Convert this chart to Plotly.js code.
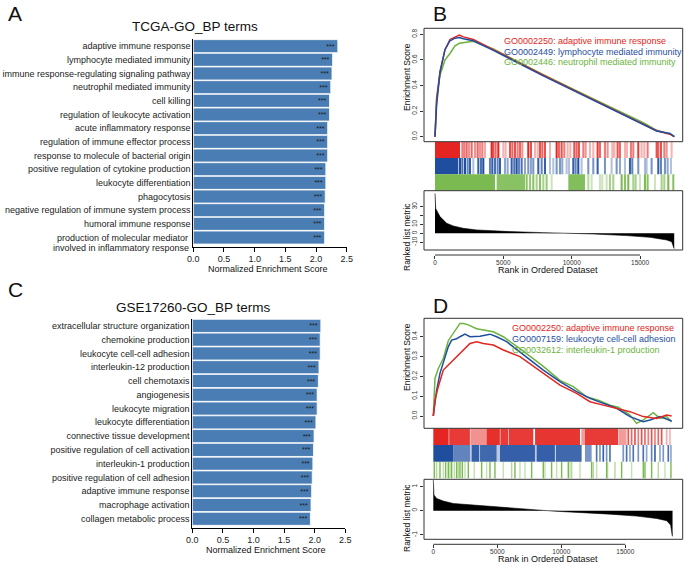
<!DOCTYPE html>
<html>
<head>
<meta charset="utf-8">
<script src="https://cdn.plot.ly/plotly-3.0.1.min.js"></script>
<style>html,body{margin:0;padding:0;background:#fff}#chart{width:685px;height:564px}</style>
</head>
<body>
<div id="chart"></div>
<script>
// ---------------- Panel A data ----------------
const termsA = ["adaptive immune response","lymphocyte mediated immunity","immune response-regulating signaling pathway","neutrophil mediated immunity","cell killing","regulation of leukocyte activation","acute inflammatory response","regulation of immune effector process","response to molecule of bacterial origin","positive regulation of cytokine production","leukocyte differentiation","phagocytosis","negative regulation of immune system process","humoral immune response","production of molecular mediator involved in inflammatory response"];
const labelsA = ["adaptive immune response","lymphocyte mediated immunity","immune response-regulating signaling pathway","neutrophil mediated immunity","cell killing","regulation of leukocyte activation","acute inflammatory response","regulation of immune effector process","response to molecule of bacterial origin","positive regulation of cytokine production","leukocyte differentiation","phagocytosis","negative regulation of immune system process","humoral immune response","production of molecular mediator "];
const labelA_line2 = "involved in inflammatory response";
const nesA = [2.355,2.27,2.26,2.24,2.22,2.22,2.19,2.19,2.19,2.16,2.16,2.15,2.14,2.14,2.14];
// ---------------- Panel C data ----------------
const termsC = ["extracellular structure organization","chemokine production","leukocyte cell-cell adhesion","interleukin-12 production","cell chemotaxis","angiogenesis","leukocyte migration","leukocyte differentiation","connective tissue development","positive regulation of cell activation","interleukin-1 production","positive regulation of cell adhesion","adaptive immune response","macrophage activation","collagen metabolic process"];
const nesC = [2.10,2.09,2.09,2.07,2.06,2.04,2.04,2.02,1.99,1.98,1.97,1.96,1.95,1.94,1.93];
const starLabel = "***";
const nesTicks = [0,0.5,1,1.5,2,2.5];
const nesTickText = ['0.0','0.5','1.0','1.5','2.0','2.5'];

// ---------------- Panel B data ----------------
const setNamesB = ["GO0002250: adaptive immune response","GO0002449: lymphocyte mediated immunity","GO0002446: neutrophil mediated immunity"];
const esRankB = [0,120,366,731,1097,1463,1780,2072,2804,4267,7925,11583,15240,16216,17191,17508];
const esB_red   = [0,0.29,0.51,0.68,0.76,0.78,0.795,0.78,0.76,0.68,0.48,0.29,0.10,0.047,0.02,0];
const esB_blue  = [0,0.25,0.50,0.68,0.75,0.77,0.775,0.765,0.75,0.675,0.475,0.285,0.10,0.045,0.025,0];
const esB_green = [0,0.31,0.48,0.60,0.65,0.71,0.73,0.735,0.745,0.685,0.485,0.295,0.11,0.05,0.02,0];
const rankMetricRankB = [0,50,366,853,1341,2072,3048,4267,5487,7925,9876,11583,14022,15728,16947,17313,17484,17500];
const rankMetricB     = [45,28,18.8,11.3,8.3,5.6,3.8,2.6,1.9,0.75,0,-0.75,-2.6,-4.5,-7.5,-9.4,-17,-17];
const rankTicks = [0,5000,10000,15000];
const rankTickText = ['0','5000','10000','15000'];
const bRedBlocks = [[0,1830,1]];
const bRedHits = [2000,2145,2316,2487,2682,2926,3121,3291,3462,3657,4145,4267,4437,4632,4998,5169,5486,5656,5851,6046,6217,6388,6826,7021,7314,7509,7680,7850,8045,8411,8899,9069,9264,9459,9703,9898,10191,10362,10532,10849,11020,11337,11581,11897,12068,12434,12629,12970,13116,13360,13531,13897,14043,14335,14506,14872,15116,15311,15554,16213,16335,16530,16774,16945,17310];
const bRedAlpha = [.6,.6,.7,.5,.7,.5,.7,.5,.6,.4,1,.8,.7,1,.35,.35,.8,.7,.8,.6,.7,.5,1,.8,.35,.35,.8,.7,.8,.35,1,.7,.8,.6,.35,.35,.8,.7,.8,.6,.5,.35,.35,.9,.7,.6,.5,.35,.35,.8,.7,.35,.35,.6,.6,.9,.35,.35,.6,.8,.7,.8,.6,.5,.35];
const bBlueBlocks = [[0,1707,1]];
const bBlueHits = [1829,2000,2194,2389,2560,2804,3169,3364,3535,4023,4193,4388,4583,4754,5120,5315,5607,5802,5973,6144,6339,6583,6826,7021,7192,7558,7802,8045,8411,8655,8899,9143,9313,9630,9801,10118,10288,10483,10727,11215,11581,11897,12434,12921,13287,13531,13897,14262,14433,14872,15359,15481,15847,16335,16530,16822,17017,17261];
const bBlueAlpha = [1,.8,1,.7,.9,.35,.9,.8,1,.7,.9,.8,.7,.9,.5,.5,.9,.8,1,.7,.8,.5,.6,.5,.6,.9,.7,.9,.35,.35,.6,.6,.5,.35,.35,.9,.7,1,.35,.6,.6,.9,.6,.35,.6,.5,.35,.9,.7,.6,.35,.35,.6,.9,.7,.6,.5,.35];
const bGreenBlocks = [[0,4388,0.9],[4510,6583,0.8],[9752,10971,0.85]];
const bGreenHits = [6705,6948,7192,7436,7680,7924,8167,8533,11215,11459,12068,12239,12556,12800,13043,13653,13897,14140,14506,14677,14994,15359,15554,16091,16579,16774,17066,17432];
const bGreenAlpha = [.8,.7,.8,.6,.8,.6,.7,.35,.5,.35,.35,.35,.35,.6,.6,.9,.8,.9,.6,.6,.35,.9,.8,.35,.6,.6,.9,.8];

// ---------------- Panel D data ----------------
const setNamesD = ["GO0002250: adaptive immune response","GO0007159: leukocyte cell-cell adhesion","GO0032612: interleukin-1 production"];
const esRankD_red = [0,130,391,781,1172,1563,1953,2344,2865,3385,3906,4688,5469,6771,8594,9896,11198,12240,13281,14323,15365,16406,17448,18229,18620];
const esD_red     = [0,0.08,0.148,0.232,0.257,0.282,0.307,0.333,0.366,0.375,0.366,0.358,0.333,0.30,0.215,0.156,0.114,0.072,0.055,0.039,0.022,-0.003,-0.012,0.005,0];
const esRankD_blue = [0,260,521,781,1172,1432,1823,2083,2474,2865,3646,4427,4948,5729,6771,8594,9896,11198,12240,13281,14323,15365,16406,16927,17708,18620];
const esD_blue     = [0,0.13,0.215,0.265,0.35,0.383,0.39,0.40,0.413,0.40,0.403,0.413,0.40,0.375,0.324,0.232,0.173,0.123,0.089,0.064,0.039,-0.003,-0.029,-0.02,-0.003,-0.025];
const esRankD_green = [0,130,391,651,781,1172,1563,2083,2344,2734,3385,4688,5469,6771,8594,9896,10938,11979,12891,13802,14453,15365,15885,16406,17188,17708,18229,18620];
const esD_green     = [0,0.19,0.24,0.27,0.29,0.38,0.42,0.467,0.467,0.46,0.44,0.425,0.40,0.34,0.25,0.18,0.148,0.097,0.08,0.055,0.044,0.005,-0.037,-0.02,0.017,-0.012,-0.003,-0.03];
const rankMetricRankD = [0,52,260,781,1563,3385,5469,7292,8594,9896,11979,13802,15885,17448,18229,18542,18672,18690];
const rankMetricD     = [1.27,0.65,0.51,0.40,0.30,0.22,0.14,0.055,0.014,-0.03,-0.08,-0.14,-0.22,-0.32,-0.41,-0.59,-1.05,-1.05];
const dRedBlocks = [[0,1200,1],[1240,2860,0.9],[2900,4160,0.5],[4160,5200,0.95],[5240,5860,0.9],[5900,7810,0.9],[7950,11460,0.92],[11560,11850,0.45],[11850,14450,0.9],[14500,15100,0.45]];
const dRedHits = [15233,15494,15754,16015,16275,16535,16796,17056,17317,17577,17838,18228,18488];
const dRedAlpha = [.8,.7,.8,.6,.8,.7,.6,.8,.6,.7,.8,.4,.35];
const dBlueBlocks = [[0,1562,1],[1562,2864,0.7],[2864,2995,0.3],[2995,3600,0.9],[3650,4947,0.85],[4947,5208,0.3],[5208,7942,0.9],[7942,8072,0.3],[8072,9500,0.9],[9560,11588,0.85],[11848,12369,0.6]];
const dBlueHits = [12760,13020,13281,13541,13801,14843,15103,15364,15624,16015,16405,16666,17056,17317,17707,17968,18358,18566];
const dBlueAlpha = [.8,.6,.9,.6,.8,.6,.8,.5,.8,.6,.8,.5,.7,.9,.5,.6,.8,.5];
const dGreenBlocks = [];
const dGreenHits = [78,260,521,781,963,1172,1302,1432,1641,1823,1953,2083,2265,2474,2734,3203,3776,4166,4427,4817,5468,6119,6380,6770,7161,7682,8593,8723,9244,9635,10025,10546,10676,10807,11458,12369,12499,12760,13541,13619,14192,14713,15494,16405,16535,17056,17577,18098,18566];
const dGreenAlpha = [.9,.5,.9,.4,.9,.9,.5,.9,.4,.9,.5,.9,.9,.4,.9,.4,.9,.4,.9,.9,.4,.5,.9,.4,.4,.9,.9,.4,.9,.4,.9,.9,.4,.5,.4,.9,.5,.4,.9,.4,.5,.9,.4,.9,.9,.9,.5,.4,.9];

// ---------------- styling ----------------
const FONT = "Liberation Sans, Arial, sans-serif";
const RED = [229,37,33], BLUE = [31,78,158], GREEN = [108,179,62];
const css = c => `rgb(${c[0]},${c[1]},${c[2]})`;
const rgba = (c,a) => `rgba(${c[0]},${c[1]},${c[2]},${a})`;
const W = 685, H = 564;
const px = v => v / W, py = v => 1 - v / H;

function hitTrace(xa, ya, row, color, blocks, hits, alpha, w) {
  const xs = [], ws = [], cs = [];
  blocks.forEach(b => { xs.push((b[0] + b[1]) / 2); ws.push(b[1] - b[0]); cs.push(rgba(color, b[2])); });
  hits.forEach((h, i) => { xs.push(h); ws.push(w); cs.push(rgba(color, alpha[i] == null ? 0.6 : alpha[i])); });
  return {type:'bar', x:xs, y:xs.map(() => 1), base:row, width:ws, marker:{color:cs, line:{width:0}},
          xaxis:xa, yaxis:ya, hoverinfo:'skip', showlegend:false};
}
function esTrace(xa, ya, x, y, color) {
  return {type:'scatter', mode:'lines', x:x, y:y, line:{color:css(color), width:1.5}, xaxis:xa, yaxis:ya, hoverinfo:'skip', showlegend:false};
}
function barTrace(xa, ya, vals, cats) {
  return {type:'bar', orientation:'h', x:vals, y:cats, xaxis:xa, yaxis:ya,
          marker:{color:'#4a7db3', line:{color:'#ffffff', width:0.8}},
          text:vals.map(() => starLabel), texttemplate:'%{text}', textposition:'inside', insidetextanchor:'end',
          textfont:{size:7, color:'#1a1a1a', family:FONT}, constraintext:'none', hoverinfo:'skip', showlegend:false};
}

const traces = [
  barTrace('x','y',nesA,termsA),
  barTrace('x2','y2',nesC,termsC),
  // B
  esTrace('x3','y3',esRankB,esB_green,GREEN),
  esTrace('x3','y3',esRankB,esB_red,RED),
  esTrace('x3','y3',esRankB,esB_blue,BLUE),
  hitTrace('x3','y4',2,RED,bRedBlocks,bRedHits,bRedAlpha,150),
  hitTrace('x3','y4',1,BLUE,bBlueBlocks,bBlueHits,bBlueAlpha,150),
  hitTrace('x3','y4',0,GREEN,bGreenBlocks,bGreenHits,bGreenAlpha,150),
  {type:'scatter', mode:'lines', x:rankMetricRankB, y:rankMetricB, fill:'tozeroy', fillcolor:'#000', line:{color:'#000', width:0.6}, xaxis:'x3', yaxis:'y5', hoverinfo:'skip', showlegend:false},
  // D
  esTrace('x4','y6',esRankD_green,esD_green,GREEN),
  esTrace('x4','y6',esRankD_blue,esD_blue,BLUE),
  esTrace('x4','y6',esRankD_red,esD_red,RED),
  hitTrace('x4','y7',2,RED,dRedBlocks,dRedHits,dRedAlpha,130),
  hitTrace('x4','y7',1,BLUE,dBlueBlocks,dBlueHits,dBlueAlpha,130),
  hitTrace('x4','y7',0,GREEN,dGreenBlocks,dGreenHits,dGreenAlpha,110),
  {type:'scatter', mode:'lines', x:rankMetricRankD, y:rankMetricD, fill:'tozeroy', fillcolor:'#000', line:{color:'#000', width:0.6}, xaxis:'x4', yaxis:'y8', hoverinfo:'skip', showlegend:false}
];

const barX = (dom) => ({domain:dom, range:[0,2.5], tickvals:nesTicks, ticktext:nesTickText,
  showline:true, linecolor:'#000', linewidth:1, ticks:'outside', ticklen:4, tickcolor:'#000', ticklabelstandoff:-1, showgrid:false, zeroline:false,
  tickfont:{size:9, color:'#222'}, fixedrange:true});
const barY = (dom, anchor, cats, labels, top) => ({domain:dom, anchor:anchor, type:'category', categoryorder:'array', categoryarray:cats,
  tickvals:cats, ticktext:labels,
  range:[top,-0.5], showline:true, linecolor:'#000', linewidth:1, ticks:'', showgrid:false, zeroline:false,
  tickfont:{size:9, color:'#222'}, fixedrange:true});
const gX = (dom, range, pos) => ({domain:dom, range:range, anchor:'free', position:pos, tickvals:rankTicks, ticktext:rankTickText,
  ticks:'outside', ticklen:3, tickcolor:'#333', ticklabelstandoff:-2, showline:false, showgrid:false, zeroline:false, tickfont:{size:6.5, color:'#333'}, fixedrange:true});
const gY = (dom, range, anchor, vals, text) => ({domain:dom, range:range, anchor:anchor, tickvals:vals, ticktext:text, tickangle:-90,
  ticks:'outside', ticklen:3, tickcolor:'#333', showline:false, showgrid:false, zeroline:false, tickfont:{size:6.5, color:'#333'}, fixedrange:true});
const hY = (dom, anchor) => ({domain:dom, range:[0,3], anchor:anchor, visible:false, fixedrange:true});

const box = (xr, yr) => ({type:'rect', xref:xr+' domain', yref:yr+' domain', x0:0, x1:1, y0:0, y1:1, line:{color:'#333', width:1}, fillcolor:'rgba(0,0,0,0)'});
const axLine = (xr, yv) => ({type:'line', xref:xr, yref:'paper', x0:0, x1:15000, y0:yv, y1:yv, line:{color:'#333', width:1}});

const ann = (x, y, text, size, opts) => Object.assign({xref:'paper', yref:'paper', x:px(x), y:py(y), text:text, showarrow:false,
  font:{size:size, family:FONT, color:'#111'}, xanchor:'center', yanchor:'middle'}, opts || {});

const annotations = [
  ann(15, 13, 'A', 21), ann(440, 13, 'B', 21), ann(15, 289, 'C', 21), ann(440, 305, 'D', 21),
  ann(195, 26, 'TCGA-GO_BP terms', 13.5), ann(193, 307, 'GSE17260-GO_BP terms', 13.5),
  ann(268, 268.5, 'Normalized Enrichment Score', 9), ann(266, 549.5, 'Normalized Enrichment Score', 9),
  ann(191, 248.5, labelA_line2, 9, {xanchor:'right', font:{size:9, family:FONT, color:'#222'}}),
  ann(407, 77, 'Enrichment Score', 8.5, {textangle:-90}), ann(407, 237, 'Ranked list metric', 8.5, {textangle:-90}),
  ann(548, 270, 'Rank in Ordered Dataset', 9),
  ann(407, 357, 'Enrichment Score', 8.5, {textangle:-90}), ann(407, 518, 'Ranked list metric', 8.5, {textangle:-90}),
  ann(548, 558.5, 'Rank in Ordered Dataset', 9),
  ann(502, 40.7, setNamesB[0], 9, {xanchor:'left', font:{size:9, family:FONT, color:css(RED)}}),
  ann(502, 51.7, setNamesB[1], 9, {xanchor:'left', font:{size:9, family:FONT, color:css(BLUE)}}),
  ann(502, 62.3, setNamesB[2], 9, {xanchor:'left', font:{size:9, family:FONT, color:css(GREEN)}}),
  ann(510, 328.3, setNamesD[0], 9, {xanchor:'left', font:{size:9, family:FONT, color:css(RED)}}),
  ann(510, 339.3, setNamesD[1], 9, {xanchor:'left', font:{size:9, family:FONT, color:css(BLUE)}}),
  ann(510, 350, setNamesD[2], 9, {xanchor:'left', font:{size:9, family:FONT, color:css(GREEN)}})
];

const layout = {
  width:W, height:H, autosize:false, margin:{l:0, r:0, t:0, b:0}, paper_bgcolor:'#fff', plot_bgcolor:'rgba(0,0,0,0)',
  font:{family:FONT, color:'#222'}, showlegend:false, barmode:'overlay', bargap:0.05,
  xaxis: barX([px(193.3), px(346.7)]),
  yaxis: barY([py(246.7), py(39.3)], 'x', termsA, labelsA, 14.67),
  xaxis2: Object.assign(barX([px(192.3), px(345.3)]), {anchor:'y2'}),
  yaxis2: barY([py(528.3), py(319)], 'x2', termsC, termsC, 14.69),
  xaxis3: gX([px(424), px(682.7)], [-804, 18120], py(255)),
  yaxis3: gY([py(141.7), py(28.3)], [-0.039, 0.847], 'x3', [0,0.2,0.4,0.6,0.8], ['0.0','0.2','0.4','0.6','0.8']),
  yaxis4: hY([py(190.7), py(141.7)], 'x3'),
  yaxis5: gY([py(250), py(190.7)], [-18.8, 48], 'x3', [-10,0,10,20,30], ['-10','0','10','','30']),
  xaxis4: gX([px(424), px(682.7)], [-727, 19484], py(544.3)),
  yaxis6: gY([py(428.3), py(318.3)], [-0.062, 0.493], 'x4', [0,0.1,0.2,0.3,0.4], ['0.0','0.1','0.2','0.3','0.4']),
  yaxis7: hY([py(478.5), py(428.3)], 'x4'),
  yaxis8: gY([py(539.3), py(479.3)], [-1.18, 1.30], 'x4', [-1,0,1], ['-1','0','1']),
  shapes:[box('x3','y3'), box('x3','y5'), box('x4','y6'), box('x4','y8'), axLine('x3', py(255)), axLine('x4', py(544.3))],
  annotations:annotations
};

Plotly.newPlot('chart', traces, layout, {staticPlot:true, displayModeBar:false});
</script>
</body>
</html>
